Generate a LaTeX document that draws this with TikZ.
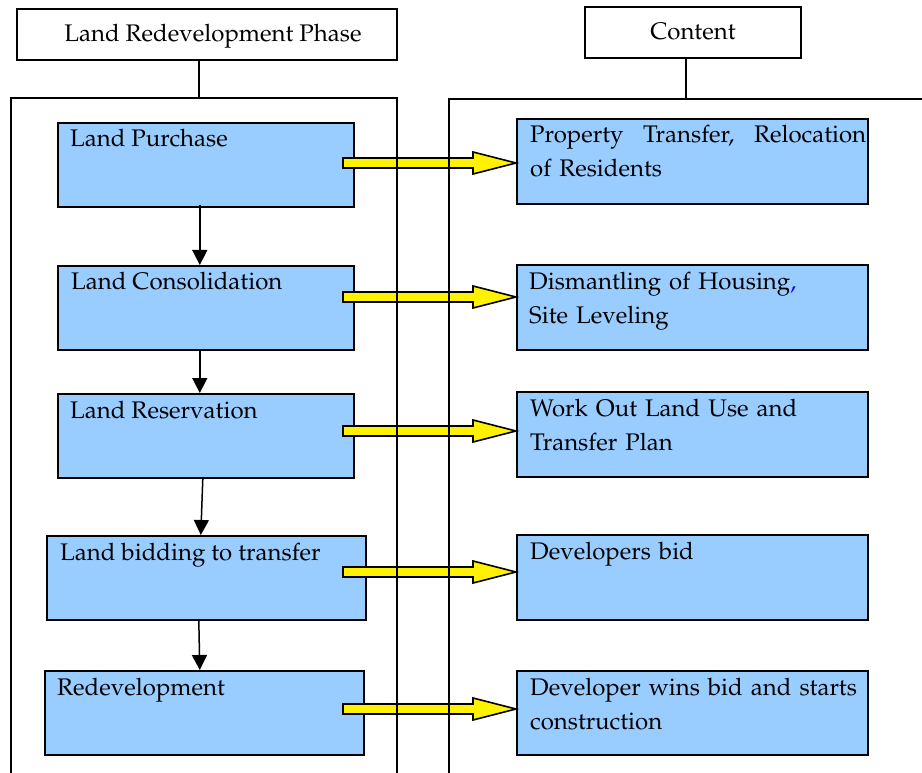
\documentclass[tikz,border=0pt]{standalone}
\usepackage[T1]{fontenc}
\usepackage{mathpazo}
\usetikzlibrary{arrows.meta,calc}
\definecolor{boxblue}{HTML}{99CCFF}
\newcommand\bigyellowarrow[2]{%
  \path[blockarrow] let \p1=(#1), \p2=(#2.west) in
    (\x1,{\y1+5pt}) -- ({\x2-43pt},{\y1+5pt}) -- ({\x2-43pt},{\y1+11pt}) -- (\x2,\y1)
    -- ({\x2-43pt},{\y1-11pt}) -- ({\x2-43pt},{\y1-5pt}) -- (\x1,{\y1-5pt}) -- cycle;}
\begin{document}
\begin{tikzpicture}[x=1pt,y=-1pt,
  txt/.style={font=\fontsize{24}{34}\selectfont, inner sep=0pt, anchor=base west},
  rtxt/.style={txt, text width=345pt, align=left},
  hdr/.style={draw, line width=1.6pt, fill=white, font=\fontsize{24}{34}\selectfont,
              text height=18pt, text depth=4pt, inner sep=0pt},
  bluebox/.style={draw, line width=1.6pt, fill=boxblue, inner sep=0pt, anchor=north west},
  frame/.style={draw, line width=1.6pt},
  flow/.style={draw, line width=1.5pt, -{Triangle[length=15pt,width=15pt]}},
  blockarrow/.style={draw, line width=1.6pt, fill=yellow, line join=miter}]
\useasboundingbox (0,0) rectangle (922,773);

% headers
\node[hdr, minimum width=380pt, minimum height=51pt] (H1) at (207,34.5) {\hspace*{12pt}Land Redevelopment Phase};
\node[hdr, minimum width=216pt, minimum height=51pt] (H2) at (693,32.5) {Content};

% left boxes
\node[bluebox, minimum width=296pt, minimum height=84pt] (L1) at (57,122) {};
\node[bluebox, minimum width=296pt, minimum height=84pt] (L2) at (57,265) {};
\node[bluebox, minimum width=296pt, minimum height=84pt] (L3) at (57,393) {};
\node[bluebox, minimum width=319pt, minimum height=84pt] (L4) at (46,535) {};
\node[bluebox, minimum width=319pt, minimum height=84pt] (L5) at (44,670) {};

% right boxes
\node[bluebox, minimum width=351pt, minimum height=85pt] (R1) at (516,118) {};
\node[bluebox, minimum width=351pt, minimum height=85pt] (R2) at (516,264) {};
\node[bluebox, minimum width=351pt, minimum height=85pt] (R3) at (516,391) {};
\node[bluebox, minimum width=351pt, minimum height=85pt] (R4) at (516,534) {};
\node[bluebox, minimum width=351pt, minimum height=84pt] (R5) at (516,670) {};

% left texts
\node[txt] at ($(L1.north west)+(13,25)$) {Land Purchase};
\node[txt] at ($(L2.north west)+(14,25)$) {Land Consolidation};
\node[txt] at ($(L3.north west)+(13,25)$) {Land Reservation};
\node[txt] at ($(L4.north west)+(14,25)$) {Land bidding to transfer};
\node[txt] at ($(L5.north west)+(13,25)$) {Redevelopment};

% right texts
\node[rtxt] at ($(R1.north west)+(14,25)$) {\hbox to 336pt{Property\hfill Transfer,\hfill Relocation}\\of Residents};
\node[rtxt] at ($(R2.north west)+(13,25)$) {Dismantling of Housing{\color{blue},}\\Site Leveling};
\node[rtxt] at ($(R3.north west)+(14,25)$) {Work Out Land Use and\\Transfer Plan};
\node[rtxt] at ($(R4.north west)+(14,25)$) {Developers bid};
\node[rtxt] at ($(R5.north west)+(14,25)$) {Developer wins bid and starts\\construction};

% flow arrows
\draw[flow] ($(L1.south)+(-6,-3)$) -- ($(L2.north)+(-6,0)$);
\draw[flow] ($(L2.south)+(-6,0)$) -- ($(L3.north)+(-6,0)$);
\draw[flow] ($(L3.south)+(-3,0)$) -- ($(L4.north)+(-5.5,0)$);
\draw[flow] ($(L4.south)+(-7.5,0)$) -- ($(L5.north)+(-4.5,0)$);

% yellow block arrows
\coordinate (a1) at (343,163);
\coordinate (a2) at (343,297);
\coordinate (a3) at (343,431);
\coordinate (a4) at (343,572);
\coordinate (a5) at (343,709);
\bigyellowarrow{a1}{R1}
\bigyellowarrow{a2}{R2}
\bigyellowarrow{a3}{R3}
\bigyellowarrow{a4}{R4}
\bigyellowarrow{a5}{R5}

% frames
\coordinate (f1) at (199,98);
\coordinate (f2) at (686,99);
\draw[frame] (11,800) -- (11,98) -- (397,98) -- (397,800);
\draw[frame] (449,800) -- (449,99) -- (940,99);
\draw[frame] (f1 |- H1.south) -- (f1);
\draw[frame] (f2 |- H2.south) -- (f2);
\end{tikzpicture}
\end{document}
